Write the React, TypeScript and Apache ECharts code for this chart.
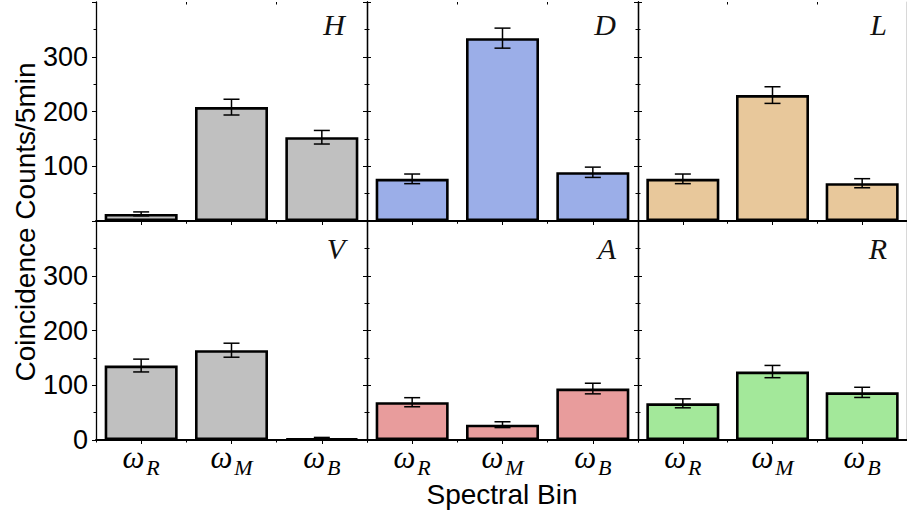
import React, { useEffect, useRef } from 'react';
import * as echarts from 'echarts';

// ---- data ----
const categories = ['R', 'M', 'B'];
const panelLabels = ['H', 'D', 'L', 'V', 'A', 'R'];

const countsH = [13, 208, 153];
const errorsH = [3.6, 14.4, 12.4];
const countsD = [77, 334, 89];
const errorsD = [8.8, 18.3, 9.4];
const countsL = [77, 230, 69];
const errorsL = [8.8, 15.2, 8.3];
const countsV = [136, 164, 3];
const errorsV = [11.7, 12.8, 1.7];
const countsA = [69, 28, 94];
const errorsA = [8.3, 5.3, 9.7];
const countsR = [67, 125, 87];
const errorsR = [8.2, 11.2, 9.3];

const panelCounts = [countsH, countsD, countsL, countsV, countsA, countsR];
const panelErrors = [errorsH, errorsD, errorsL, errorsV, errorsA, errorsR];
const panelColors = ['#c0c0c0', '#9baee8', '#e8c89b', '#c0c0c0', '#e89c9c', '#a3e89a'];

const yMin = 0;
const yMax = 400;
const yInterval = 100;

const yAxisTitle = 'Coincidence Counts/5min';
const xAxisTitle = 'Spectral Bin';

// ---- layout ----
const PANEL_LEFT = 96;
const PANEL_W = 271;
const ROW_TOPS = [2, 221];
const PANEL_H = 219;

const SANS = '"Liberation Sans", Arial, Helvetica, sans-serif';
const SERIF = '"Liberation Serif", "Times New Roman", serif';

function buildOption() {
  const grids: any[] = [];
  const xAxes: any[] = [];
  const yAxes: any[] = [];
  const series: any[] = [];
  const graphics: any[] = [];

  for (let p = 0; p < 6; p++) {
    const row = Math.floor(p / 3);
    const col = p % 3;
    const left = PANEL_LEFT + PANEL_W * col;
    const top = ROW_TOPS[row];
    const rect = { left, top, width: PANEL_W, height: PANEL_H };
    const gMain = grids.length;
    grids.push({ ...rect, containLabel: false });
    const gAux = grids.length;
    grids.push({ ...rect, containLabel: false });

    // main bottom x axis (category, ticks at centers, labels)
    const xMain = xAxes.length;
    xAxes.push({
      type: 'category',
      gridIndex: gMain,
      position: 'bottom',
      data: categories,
      boundaryGap: true,
      axisLine: { show: true, lineStyle: { color: '#000', width: 2 } },
      axisTick: { show: true, alignWithLabel: true, interval: 0, length: 4, inside: false, lineStyle: { color: '#000', width: 1 } },
      axisLabel: {
        show: row === 1,
        interval: 0,
        margin: 2,
        formatter: (v: string) => `{w|ω}{s|${v}}`,
        rich: {
          w: { fontFamily: SERIF, fontStyle: 'italic', fontWeight: 'normal', fontSize: 31, lineHeight: 30, verticalAlign: 'top', color: '#000' },
          s: { fontFamily: SERIF, fontStyle: 'italic', fontWeight: 'normal', fontSize: 22, lineHeight: 22, verticalAlign: 'top', padding: [14, 0, 0, 2], color: '#000' },
        },
      },
      splitLine: { show: false },
    });
    // top frame x axis (centers)
    xAxes.push({
      type: 'category',
      gridIndex: gMain,
      position: 'top',
      data: categories,
      boundaryGap: true,
      axisLine: { show: true, lineStyle: { color: '#000', width: 1 } },
      axisTick: { show: true, alignWithLabel: true, interval: 0, length: 4, inside: true, lineStyle: { color: '#000', width: 1 } },
      axisLabel: { show: false },
      splitLine: { show: false },
    });
    // aux bottom / top x axes for boundary (minor) ticks
    xAxes.push({
      type: 'category',
      gridIndex: gAux,
      position: 'bottom',
      data: categories,
      boundaryGap: true,
      axisLine: { show: false },
      axisTick: { show: true, alignWithLabel: false, interval: 0, length: 2.5, inside: false, lineStyle: { color: '#000', width: 1 } },
      axisLabel: { show: false },
      splitLine: { show: false },
    });
    xAxes.push({
      type: 'category',
      gridIndex: gAux,
      position: 'top',
      data: categories,
      boundaryGap: true,
      axisLine: { show: false },
      axisTick: { show: true, alignWithLabel: false, interval: 0, length: 2.5, inside: true, lineStyle: { color: '#000', width: 1 } },
      axisLabel: { show: false },
      splitLine: { show: false },
    });

    // left y axis
    const yMainIdx = yAxes.length;
    const showLabels = col === 0;
    yAxes.push({
      type: 'value',
      gridIndex: gMain,
      position: 'left',
      min: yMin,
      max: yMax,
      interval: yInterval,
      axisLine: { show: true, lineStyle: { color: '#000', width: 1.3 } },
      axisTick: { show: true, length: 4, inside: false, lineStyle: { color: '#000', width: 1 } },
      minorTick: { show: true, splitNumber: 2, length: 2.5, lineStyle: { color: '#000', width: 1 } },
      axisLabel: {
        show: showLabels,
        margin: 8,
        color: '#000',
        fontFamily: SANS,
        fontSize: 27,
        formatter: (v: number) => (v === yMax || (row === 0 && v === 0) ? '' : String(v)),
      },
      splitLine: { show: false },
    });
    // right y axis
    yAxes.push({
      type: 'value',
      gridIndex: gMain,
      position: 'right',
      min: yMin,
      max: yMax,
      interval: yInterval,
      axisLine: { show: true, lineStyle: { color: '#000', width: 1.3 } },
      axisTick: { show: true, length: 4, inside: false, lineStyle: { color: '#000', width: 1 } },
      minorTick: { show: true, splitNumber: 2, length: 2.5, lineStyle: { color: '#000', width: 1 } },
      axisLabel: { show: false },
      splitLine: { show: false },
    });
    // aux hidden y axis
    yAxes.push({
      type: 'value',
      gridIndex: gAux,
      min: yMin,
      max: yMax,
      show: false,
    });

    const counts = panelCounts[p];
    const errs = panelErrors[p];

    series.push({
      type: 'bar',
      xAxisIndex: xMain,
      yAxisIndex: yMainIdx,
      barWidth: 73,
      data: counts,
      itemStyle: { color: panelColors[p], borderColor: '#000', borderWidth: 2.6 },
      z: 2,
    });

    series.push({
      type: 'custom',
      xAxisIndex: xMain,
      yAxisIndex: yMainIdx,
      z: 3,
      data: counts.map((v, j) => [j, v, errs[j]]),
      encode: { x: 0, y: 1 },
      renderItem: (params: any, api: any) => {
        const x = api.value(0);
        const v = api.value(1);
        const e = api.value(2);
        const hi = api.coord([x, v + e]);
        const lo = api.coord([x, v - e]);
        const half = 8;
        const st = { stroke: '#000', lineWidth: 1.5, fill: null };
        return {
          type: 'group',
          children: [
            { type: 'line', shape: { x1: hi[0], y1: hi[1], x2: lo[0], y2: lo[1] }, style: st },
            { type: 'line', shape: { x1: hi[0] - half, y1: hi[1], x2: hi[0] + half, y2: hi[1] }, style: st },
            { type: 'line', shape: { x1: lo[0] - half, y1: lo[1], x2: lo[0] + half, y2: lo[1] }, style: st },
          ],
        };
      },
    });

    graphics.push({
      type: 'text',
      x: left + PANEL_W - 22,
      y: row === 0 ? top + 22 : top + 27,
      style: {
        text: panelLabels[p],
        fontFamily: SERIF,
        fontStyle: 'italic',
        fontWeight: 'normal',
        fontSize: 30,
        fill: '#111',
        textAlign: 'right',
        textVerticalAlign: 'middle',
      },
    });
  }

  graphics.push({
    type: 'text',
    x: 25,
    y: 222,
    rotation: Math.PI / 2,
    style: {
      text: yAxisTitle,
      fontFamily: SANS,
      fontSize: 28,
      fill: '#000',
      textAlign: 'center',
      textVerticalAlign: 'middle',
    },
  });
  graphics.push({
    type: 'text',
    x: 502,
    y: 494,
    style: {
      text: xAxisTitle,
      fontFamily: SANS,
      fontSize: 28,
      fill: '#000',
      textAlign: 'center',
      textVerticalAlign: 'middle',
    },
  });

  return {
    animation: false,
    backgroundColor: '#fff',
    grid: grids,
    xAxis: xAxes,
    yAxis: yAxes,
    series,
    graphic: graphics,
  };
}

export default function App() {
  const ref = useRef<HTMLDivElement>(null);
  useEffect(() => {
    if (!ref.current) return;
    const chart = echarts.init(ref.current, null, { renderer: 'svg' });
    chart.setOption(buildOption() as any);
    return () => chart.dispose();
  }, []);
  return (
    <div
      ref={ref}
      style={{ position: 'absolute', left: 0, top: 0, width: 907, height: 517, background: '#fff' }}
    />
  );
}
